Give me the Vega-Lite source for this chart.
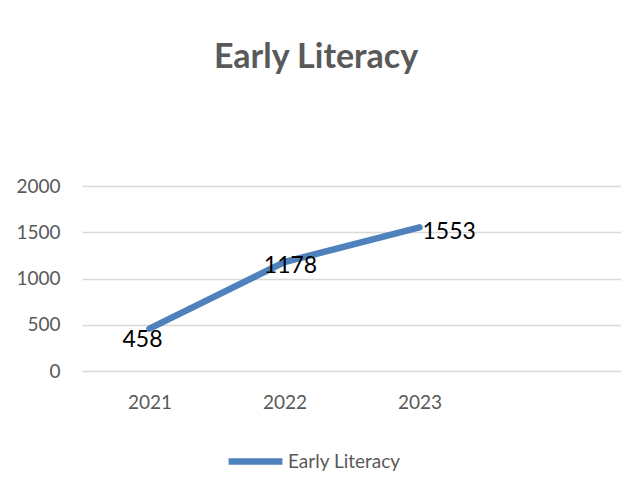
{
  "$schema": "https://vega.github.io/schema/vega-lite/v6.json",
  "autosize": {"type": "none"},
  "width": 540,
  "height": 185,
  "padding": {"left": 82, "top": 186, "right": 0, "bottom": 108},
  "background": "white",
  "config": {"view": {"stroke": null}, "font": "Lato"},
  "title": {
    "text": "Early Literacy",
    "font": "Lato",
    "fontSize": 34,
    "fontWeight": "bold",
    "color": "#595959",
    "anchor": "middle",
    "dx": -36,
    "offset": 102
  },
  "data": {
    "values": [
      {"year": "2021", "value": 458, "series": "Early Literacy"},
      {"year": "2022", "value": 1178, "series": "Early Literacy"},
      {"year": "2023", "value": 1553, "series": "Early Literacy"}
    ]
  },
  "encoding": {
    "x": {
      "field": "year",
      "type": "ordinal",
      "scale": {"domain": ["2021", "2022", "2023", "2024"], "padding": 0.5},
      "axis": {
        "title": null,
        "labelExpr": "datum.value == '2024' ? '' : datum.value",
        "labelAngle": 0,
        "domain": false,
        "ticks": false,
        "grid": false,
        "labelFont": "Lato",
        "labelFontSize": 19,
        "labelColor": "#595959",
        "labelPadding": 22
      }
    },
    "y": {
      "field": "value",
      "type": "quantitative",
      "scale": {"domain": [0, 2000], "nice": false},
      "axis": {
        "title": null,
        "values": [0, 500, 1000, 1500, 2000],
        "format": "d",
        "domain": false,
        "ticks": false,
        "gridColor": "#d9d9d9",
        "gridWidth": 1.5,
        "labelFont": "Lato",
        "labelFontSize": 19,
        "labelColor": "#595959",
        "labelPadding": 22
      }
    }
  },
  "layer": [
    {
      "mark": {"type": "line", "strokeWidth": 6.5, "strokeCap": "round"},
      "encoding": {
        "color": {
          "field": "series",
          "type": "nominal",
          "scale": {"range": ["#4f81bd"]},
          "legend": {
            "title": null,
            "orient": "none",
            "legendX": 143,
            "legendY": 245,
            "symbolType": "stroke",
            "symbolStrokeWidth": 6.5,
            "symbolSize": 2900,
            "labelFont": "Lato",
            "labelFontSize": 19,
            "labelColor": "#595959",
            "labelOffset": 2
          }
        }
      }
    },
    {
      "transform": [{"filter": "datum.year == '2021'"}],
      "mark": {"type": "text", "fontSize": 23, "color": "black", "dx": -7, "dy": 11, "align": "center", "baseline": "middle"},
      "encoding": {"text": {"field": "value", "type": "quantitative"}}
    },
    {
      "transform": [{"filter": "datum.year == '2022'"}],
      "mark": {"type": "text", "fontSize": 23, "color": "black", "dx": 6, "dy": 4, "align": "center", "baseline": "middle"},
      "encoding": {"text": {"field": "value", "type": "quantitative"}}
    },
    {
      "transform": [{"filter": "datum.year == '2023'"}],
      "mark": {"type": "text", "fontSize": 23, "color": "black", "dx": 3, "dy": 5, "align": "left", "baseline": "middle"},
      "encoding": {"text": {"field": "value", "type": "quantitative"}}
    }
  ]
}
